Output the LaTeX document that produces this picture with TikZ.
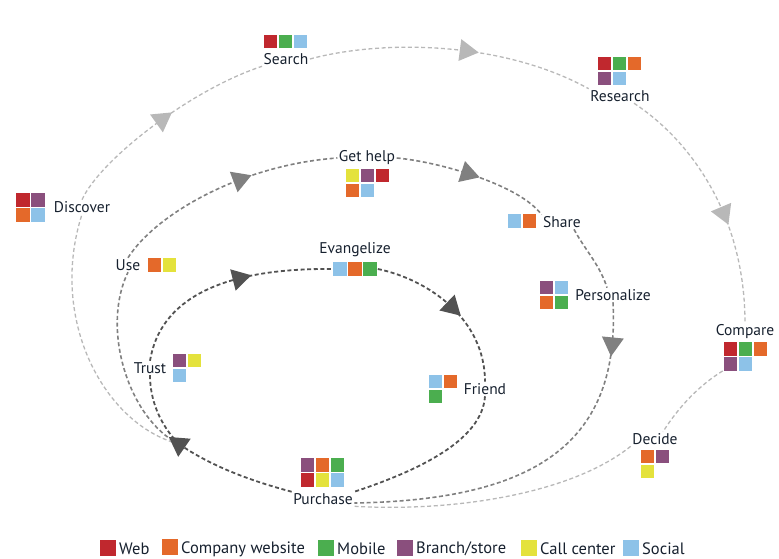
\documentclass[tikz,border=0pt]{standalone}
\usepackage{fontspec}
\setmainfont{PT Sans}
\usepackage{xcolor}
\usetikzlibrary{decorations.markings}
\definecolor{ink}{HTML}{16202E}
\definecolor{web}{HTML}{C0282E}
\definecolor{site}{HTML}{E4692A}
\definecolor{mobile}{HTML}{4BAE4F}
\definecolor{branch}{HTML}{8A4F7D}
\definecolor{callc}{HTML}{E4E23C}
\definecolor{social}{HTML}{8DC2E8}
\newcommand\sq[1]{\kern0.8pt{\color{#1}\rule{13.5pt}{13.5pt}}\kern0.8pt}
\newcommand\legsq[1]{{\color{#1}\raisebox{-2pt}{\rule{16pt}{16pt}}}\hspace{3pt}}

\begin{document}
\begin{tikzpicture}[
    x=1pt,
    y=-1pt,
    every node/.style={text=ink},
    lbl/.style={font=\fontsize{15.5}{18}\selectfont, inner sep=1.5pt},
    chan/.style={inner sep=0pt, align=left, font=\fontsize{2}{15}\selectfont},
    legend/.style={font=\fontsize{16.5}{19}\selectfont, inner sep=0pt, anchor=west},
    trail/.style={line width=#1, dash pattern=on 4pt off 2.6pt},
    outerpath/.style={trail=1.3pt, color=black!28},
    midpath/.style={trail=1.6pt, color=black!50},
    innerpath/.style={trail=1.8pt, color=black!68},
    arrowat/.style={postaction={decorate, decoration={markings,
        mark=at position #1 with {\fill (12.5pt,0) -- (-6.5pt,11pt) -- (-6.5pt,-11pt) -- cycle;}}}}
]
    \useasboundingbox (0,0) rectangle (779,559);

    % outer loop
    \node[chan] (discoveric) at (30.5,207.5) {\sq{web}\sq{branch}\\\sq{site}\sq{social}};
    \node[lbl] (discover) at (82,207) {Discover};
    \node[chan] (searchic) at (285.5,41.5) {\sq{web}\sq{mobile}\sq{social}};
    \node[lbl] (search) at (286,59) {Search};
    \node[chan] (researchic) at (619.5,71) {\sq{web}\sq{mobile}\sq{site}\\\sq{branch}\sq{social}};
    \node[lbl] (research) at (620,96) {Research};
    \node[lbl] (compare) at (745,332) {Compare};
    \node[chan] (compareic) at (745.5,356.5) {\sq{web}\sq{mobile}\sq{site}\\\sq{branch}\sq{social}};
    \node[lbl] (decide) at (655,439) {Decide};
    \node[chan] (decideic) at (655,464) {\sq{site}\sq{branch}\\\sq{callc}};

    % middle loop
    \node[lbl] (use) at (128,265) {Use};
    \node[chan] (useic) at (162,265) {\sq{site}\sq{callc}};
    \node[lbl] (gethelp) at (367,158) {Get help};
    \node[chan] (gethelpic) at (367.5,183) {\sq{callc}\sq{branch}\sq{web}\\\sq{site}\sq{social}};
    \node[chan] (shareic) at (522,221) {\sq{social}\sq{site}};
    \node[lbl] (share) at (562,222) {Share};
    \node[chan] (personalizeic) at (554,295) {\sq{branch}\sq{social}\\\sq{site}\sq{mobile}};
    \node[lbl] (personalize) at (613,295) {Personalize};

    % inner loop
    \node[lbl] (evangelize) at (355,250) {Evangelize};
    \node[chan] (evangelizeic) at (355,269) {\sq{social}\sq{site}\sq{mobile}};
    \node[lbl] (trust) at (150,368) {Trust};
    \node[chan] (trustic) at (187,368) {\sq{branch}\sq{callc}\\\sq{social}};
    \node[chan] (friendic) at (443,389) {\sq{social}\sq{site}\\\sq{mobile}};
    \node[lbl] (friend) at (485,389) {Friend};
    \node[chan] (purchaseic) at (322.5,472.5) {\sq{branch}\sq{site}\sq{mobile}\\\sq{web}\sq{callc}\sq{social}};
    \node[lbl] (purchase) at (323,499) {Purchase};

    \coordinate (hub) at (179,444);

    \draw[outerpath] (hub) .. controls (105,425) and (48,320) .. (discover.south);
    \draw[outerpath, arrowat=0.5] (discover.north) .. controls (100,160) and (190,90) .. (search.south west);
    \draw[outerpath, arrowat=0.55] (search.east) .. controls (380,40) and (500,40) .. (research.north west);
    \draw[outerpath, arrowat=0.56] ([xshift=14pt]research.south) .. controls (690,140) and (745,215) .. (compare.north);
    \draw[outerpath] (compareic.south west) .. controls (700,385) and (680,405) .. ([xshift=8pt]decide.north);
    \draw[outerpath] (decide.south west) .. controls (570,495) and (450,512) .. (purchase.south east);

    \draw[midpath] (hub) .. controls (130,420) and (100,330) .. (use.south);
    \draw[midpath, arrowat=0.58] (use.north) .. controls (155,215) and (240,165) .. (gethelp.west);
    \draw[midpath, arrowat=0.46] (gethelp.east) .. controls (440,162) and (520,185) .. (share.north west);
    \draw[midpath] ([xshift=12pt]share.south) .. controls (585,250) and (600,265) .. ([xshift=-6pt]personalize.north);
    \draw[midpath, arrowat=0.11] (personalize.south) .. controls (620,440) and (540,500) .. ([yshift=-4pt]purchase.east);

    \draw[innerpath, arrowat=0.999] (purchase.north west) .. controls (240,478) and (205,462) .. (hub);
    \draw[innerpath] (hub) .. controls (160,425) and (150,400) .. (trust.south);
    \draw[innerpath, arrowat=0.58] (trust.north) .. controls (160,300) and (220,268) .. (evangelizeic.west);
    \draw[innerpath, arrowat=0.5] (evangelizeic.east) .. controls (430,280) and (485,320) .. (friend.north);
    \draw[innerpath] (friend.south) .. controls (482,440) and (420,470) .. (purchase.north east);

    % legend
    \node[legend] (lweb) at (100,548) {\legsq{web}Web};
    \node[legend] (lsite) at (162,548) {\legsq{site}Company website};
    \node[legend] (lmobile) at (318,548) {\legsq{mobile}Mobile};
    \node[legend] (lbranch) at (397,548) {\legsq{branch}Branch/store};
    \node[legend] (lcall) at (521,548) {\legsq{callc}Call center};
    \node[legend] (lsocial) at (623,548) {\legsq{social}Social};
\end{tikzpicture}
\end{document}
